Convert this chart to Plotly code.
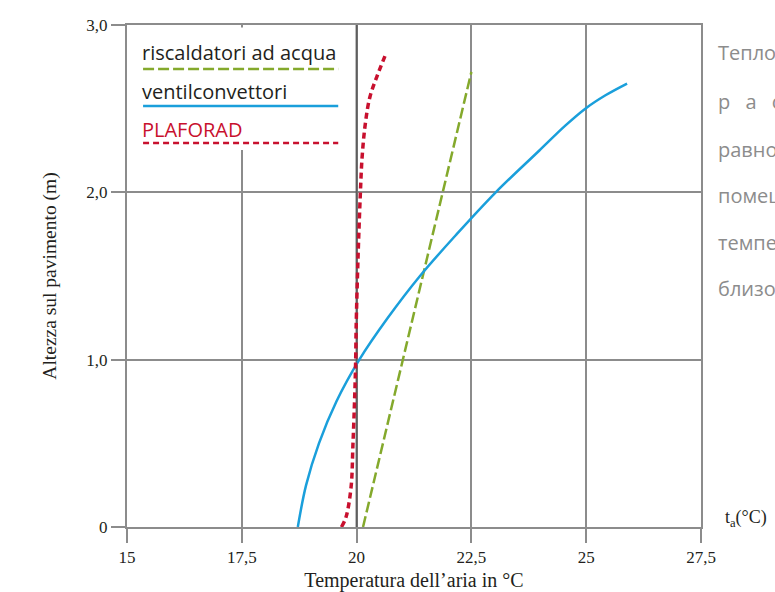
import plotly.graph_objects as go

# ---------------- data ----------------
x_ticks = [15, 17.5, 20, 22.5, 25, 27.5]
x_tick_labels = ["15", "17,5", "20", "22,5", "25", "27,5"]
y_ticks = [0, 1, 2, 3]
y_tick_labels = ["0", "1,0", "2,0", "3,0"]

series_names = ["riscaldatori ad acqua", "ventilconvettori", "PLAFORAD"]

green_temp = [20.14, 21.46, 22.5]
green_h = [0.0, 1.52, 2.72]

blue_temp = [18.72, 18.90, 19.18, 19.56, 20.06, 20.68, 21.38, 22.18, 23.03,
             23.98, 24.55, 24.98, 25.42, 25.89]
blue_h = [0.0, 0.25, 0.5, 0.75, 1.0, 1.25, 1.5, 1.75, 2.0,
          2.25, 2.4, 2.5, 2.58, 2.65]

red_temp = [19.67, 19.77, 19.88, 19.92, 19.96, 19.98, 19.99, 20.03, 20.08, 20.12,
            20.19, 20.29, 20.44, 20.64]
red_h = [0.0, 0.06, 0.24, 0.49, 0.79, 1.0, 1.19, 1.6, 1.98, 2.21,
         2.41, 2.57, 2.69, 2.83]

side_text = ["Теплоотдача",
             "р\u2002 а\u2002 с\u2002 п\u2002 р\u2002 е",
             "равномерно", "помещения", "температура", "близости"]

# ---------------- style ----------------
GREEN = "#84a92c"
BLUE = "#1a9fdb"
RED = "#c8102e"
GRID = "#8c8c8c"
TXT = "#231f20"
SERIF = "Liberation Serif, Times New Roman, serif"
SANS = "Open Sans, Noto Sans, sans-serif"

green_dash = "11px,4px"
red_dash = "6px,4px"

fig = go.Figure()

fig.add_trace(go.Scatter(x=green_temp, y=green_h, mode="lines", name=series_names[0],
                         line=dict(color=GREEN, width=2.5, dash=green_dash)))
fig.add_trace(go.Scatter(x=blue_temp, y=blue_h, mode="lines", name=series_names[1],
                         line=dict(color=BLUE, width=2.5, shape="spline", smoothing=1.0)))
fig.add_trace(go.Scatter(x=red_temp, y=red_h, mode="lines", name=series_names[2],
                         line=dict(color=RED, width=3.5, dash=red_dash, shape="spline",
                                   smoothing=1.0)))

# white legend box hiding grid
fig.add_shape(type="rect", x0=15.04, x1=19.75, y0=2.253, y1=2.985, layer="between",
              fillcolor="white", line=dict(width=0))
# darker 20 gridline
fig.add_shape(type="line", x0=20, x1=20, y0=0, y1=3, layer="between",
              line=dict(color="#5e5e5e", width=2))

# custom legend
leg_x0, leg_x1 = 15.35, 19.6
leg_text_y = [2.833, 2.60, 2.373]
leg_line_y = [2.737, 2.516, 2.295]
leg_colors = [TXT, TXT, RED]
leg_line_colors = [GREEN, BLUE, RED]
leg_dash = [green_dash, "solid", red_dash]
leg_width = [2.5, 2.5, 2.5]
for name, ty, ly, tc, lc, ds, w in zip(series_names, leg_text_y, leg_line_y,
                                       leg_colors, leg_line_colors, leg_dash, leg_width):
    fig.add_annotation(x=leg_x0, y=ty, text=name, showarrow=False, xanchor="left",
                       yanchor="middle", xshift=-3,
                       font=dict(family=SANS, size=20, color=tc))
    fig.add_shape(type="line", x0=leg_x0, x1=leg_x1, y0=ly, y1=ly, layer="above",
                  line=dict(color=lc, width=w, dash=ds))

# side text (cut off by page edge, as in the source page)
side_y = [53, 102, 149, 196, 242, 288]
for t, py in zip(side_text, side_y):
    fig.add_annotation(x=1.0, y=1 - (py - 25) / 502, xref="paper", yref="paper",
                       xshift=15, text=t, showarrow=False, xanchor="left",
                       yanchor="middle", font=dict(family=SANS, size=20, color="#8c8c8c"))

fig.add_annotation(x=1.0, y=(527 - 518) / 502, xref="paper", yref="paper", xshift=22,
                   text="t<sub>a</sub>(°C)", showarrow=False, xanchor="left",
                   yanchor="middle", font=dict(family=SERIF, size=18, color=TXT))

axis_common = dict(showgrid=True, gridcolor=GRID, gridwidth=2,
                   showline=True, linecolor=GRID, linewidth=2, mirror=True,
                   ticks="outside", ticklen=14, tickwidth=2, tickcolor=GRID,
                   zeroline=False, automargin=False,
                   tickfont=dict(family=SERIF, size=17, color=TXT))

fig.update_xaxes(range=[15, 27.5], tickvals=x_ticks, ticktext=x_tick_labels,
                 title=dict(text="Temperatura dell’aria in °C", standoff=7,
                            font=dict(family=SERIF, size=20, color=TXT)),
                 **axis_common)
fig.update_yaxes(range=[0, 3], tickvals=y_ticks, ticktext=y_tick_labels,
                 title=dict(text="Altezza sul pavimento (m)", standoff=25,
                            font=dict(family=SERIF, size=19.5, color=TXT)),
                 **axis_common)

fig.update_layout(width=775, height=592, showlegend=False,
                  margin=dict(l=127, r=74, t=25, b=65),
                  paper_bgcolor="white", plot_bgcolor="white")

fig.write_html("out.html", config={"displayModeBar": False},
               post_script="document.body.style.margin='0px';")
